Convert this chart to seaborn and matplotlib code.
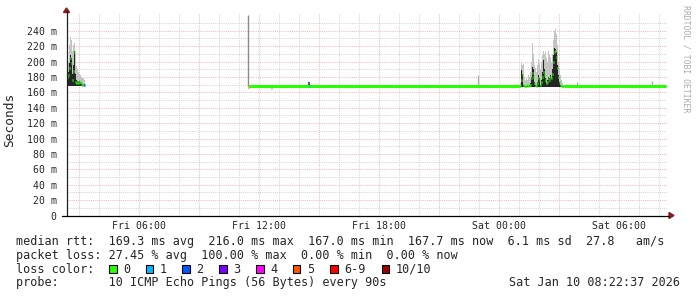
import numpy as np
import matplotlib
matplotlib.use("Agg")
import matplotlib.pyplot as plt
import seaborn as sns
from matplotlib.patches import Rectangle, Polygon
from matplotlib.lines import Line2D

# ---------------- data (ms, hours since Fri 00:00) ----------------
step_h = 0.05            # one consolidated sample every 3 minutes
x_start, x_end = 2.377, 32.377

loss_labels = ['0', '1', '2', '3', '4', '5', '6-9', '10/10']
loss_colors = ['#26ff00', '#00b8ff', '#0059ff', '#7e00ff',
               '#ff00ff', '#ff5500', '#ff0000', '#a00000']

# early burst (Fri ~02:22 - 03:20)
seg1_start = 2.377
seg1_med = [178, 180, 182, 192, 204, 198, 176, 188, 212, 174, 172, 173, 172, 174, 173, 171, 170, 169, 170]
seg1_dark = [182, 184, 186, 198, 208, 204, 184, 196, 214, 184, 176, 175, 173, 175, 174, 172, 171, 170, 171]
seg1_light = [190, 196, 200, 222, 232, 228, 214, 221, 224, 210, 194, 190, 186, 184, 182, 180, 178, 178, 176]
seg1_loss = [0, 0, 0, 0, 0, 0, 0, 0, 0, 0, 0, 0, 0, 0, 0, 0, 0, 0, 2]
seg1_lo = 168

# night burst (Sat ~01:00 - 03:15)
seg2_start = 24.977
seg2_med = [167.7, 167.7, 168, 176, 182, 170, 168, 168, 168, 169, 168, 169, 170, 178, 185, 180,
            172, 170, 168, 172, 178, 176, 170, 174, 180, 186, 182, 176, 172, 174, 178, 176,
            180, 178, 184, 200, 212, 214, 206, 192, 180, 174, 170, 168, 167.7, 167.7]
seg2_dark = [167.7, 167.7, 168, 189, 184, 170, 168, 168, 168, 169, 168, 169, 172, 180, 193, 190,
             174, 170, 168, 174, 182, 178, 170, 176, 186, 202, 190, 178, 172, 176, 180, 178,
             182, 178, 190, 208, 217, 216, 212, 196, 182, 174, 170, 168, 167.7, 167.7]
seg2_light = [168, 168, 172, 198, 196, 197, 180, 176, 178, 176, 182, 180, 186, 200, 224, 210,
              196, 192, 186, 196, 203, 198, 190, 200, 209, 213, 210, 212, 204, 200, 214, 208,
              206, 200, 210, 228, 240, 242, 236, 222, 200, 190, 182, 176, 172, 168]
seg2_lo = 166.5

# steady periods
flat_starts = [11.55, 27.277]
flat_ends = [24.952, 32.30]
flat_value = 167.7

# isolated samples
spot_t = [11.477, 12.627, 14.527]
spot_med = [167.5, 166.0, 167.7]
spot_loss = [5, 0, 1]

# tall smoke spike when probing resumed
spike_t = 11.477
spike_hi = 261

# small smoke blips on the steady line
blip_t = [12.527, 13.427, 14.227, 22.977, 27.377, 27.927, 28.277, 29.527, 30.377, 31.677]
blip_hi = [170, 171, 170, 183, 171, 173, 170, 170, 170, 175]
dark_blip_t = [14.50]
dark_blip_hi = [174]

y_major = [0, 20, 40, 60, 80, 100, 120, 140, 160, 180, 200, 220, 240]
y_minor = [10, 30, 50, 70, 90, 110, 130, 150, 170, 190, 210, 230, 250]
x_label_hours = [6, 12, 18, 24, 30]
x_label_text = ['Fri 06:00', 'Fri 12:00', 'Fri 18:00', 'Sat 00:00', 'Sat 06:00']
x_major = [3, 6, 9, 12, 15, 18, 21, 24, 27, 30]

stats_line1 = "median rtt:  169.3 ms avg  216.0 ms max  167.0 ms min  167.7 ms now  6.1 ms sd  27.8   am/s"
stats_line2 = "packet loss: 27.45 % avg  100.00 % max  0.00 % min  0.00 % now"
probe_text = "probe:       10 ICMP Echo Pings (56 Bytes) every 90s"
stamp_text = "Sat Jan 10 08:22:37 2026"

# ---------------- drawing ----------------
sns.set_style("white")
plt.rcParams['font.family'] = ['DejaVu Sans Mono', 'DejaVu Sans']
MONO = 'DejaVu Sans Mono'

W, H = 697, 297
fig = plt.figure(figsize=(W / 100, H / 100), dpi=100)
fx = lambda px: px / W
fy = lambda py: 1 - py / H

ax = fig.add_axes([fx(66.5), fy(215.5), 600 / W, (215.5 - 13) / H])
ax.set_xlim(x_start, x_end)
ax.set_ylim(0, 263)
for s in ax.spines.values():
    s.set_visible(False)

# grid
red_grid = '#f0b4b4'
gray_grid = '#d2d2d2'
dots = (0, (1, 1.2))
for v in y_minor:
    ax.axhline(v, color=gray_grid, lw=0.7, ls=dots, zorder=0)
for v in y_major[1:]:
    ax.axhline(v, color=red_grid, lw=0.7, ls=dots, zorder=0)
for h in range(3, 33):
    if h not in x_major:
        ax.axvline(h, color=gray_grid, lw=0.7, ls=dots, zorder=0)
for h in x_major:
    ax.axvline(h, color=red_grid, lw=0.7, ls=dots, zorder=0)

# smoke
def smoke(start, lo, light, dark):
    t = start + step_h * np.arange(len(light))
    ax.fill_between(t, lo, light, step='mid', color='#c4c4c4', lw=0, zorder=2)
    ax.fill_between(t, lo, dark, step='mid', color='#262626', lw=0, zorder=3)
    return t

t1 = smoke(seg1_start, seg1_lo, seg1_light, seg1_dark)
t2 = smoke(seg2_start, seg2_lo, seg2_light, seg2_dark)

ax.vlines(spike_t, flat_value, spike_hi, color='#8c8c8c', lw=1.0, zorder=2)
ax.vlines(blip_t, flat_value, blip_hi, color='#b0b0b0', lw=1.0, zorder=2)
ax.vlines(dark_blip_t, flat_value, dark_blip_hi, color='#333333', lw=1.2, zorder=3)

# steady median line
for a, b in zip(flat_starts, flat_ends):
    sns.lineplot(x=[a, b], y=[flat_value, flat_value], ax=ax,
                 color=loss_colors[0], lw=2.2, zorder=4)

# per-sample median marks, coloured by loss
def median_marks(t, med, loss):
    t = np.asarray(t, dtype=float)
    ax.hlines(med, t - step_h / 2, t + step_h / 2,
              colors=[loss_colors[l] for l in loss], lw=2.0, zorder=5)

median_marks(t1, seg1_med, seg1_loss)
median_marks(t2, seg2_med, [0] * len(seg2_med))
median_marks(spot_t, spot_med, spot_loss)

# ticks
ax.set_yticks(y_major)
ax.set_yticklabels(['0'] + [f'{v} m' for v in y_major[1:]])
ax.set_yticks(y_minor, minor=True)
ax.set_xticks(x_label_hours)
ax.set_xticklabels(x_label_text)
ax.tick_params(axis='y', which='both', length=2, width=0.7, color='#505050',
               pad=5, labelsize=7.1)
ax.tick_params(axis='x', which='both', length=0, pad=4, labelsize=7.1)
for lab in ax.get_xticklabels() + ax.get_yticklabels():
    lab.set_fontfamily(MONO)

# axis lines and arrows
fig.add_artist(Line2D([fx(66.5), fx(66.5)], [fy(215.5), fy(11)], color='#202020', lw=0.9,
                      transform=fig.transFigure))
fig.add_artist(Line2D([fx(62), fx(669)], [fy(215.5), fy(215.5)], color='#000000', lw=0.9,
                      transform=fig.transFigure))
arrow_c = '#8b1a1a'
fig.add_artist(Polygon([(fx(63.5), fy(12.5)), (fx(69.5), fy(12.5)), (fx(66.5), fy(8))],
                       closed=True, color=arrow_c, transform=fig.transFigure))
fig.add_artist(Polygon([(fx(669), fy(212.5)), (fx(669), fy(218.5)), (fx(674), fy(215.5))],
                       closed=True, color=arrow_c, transform=fig.transFigure))

# labels
fig.text(fx(10), fy(120), 'Seconds', rotation=90, ha='center', va='center',
         fontsize=9.3, family=MONO)
fig.text(fx(686), fy(59), 'RRDTOOL / TOBI OETIKER', rotation=270, ha='center', va='center',
         fontsize=5.9, family=MONO, color='#aaaaaa')

fs = 8.5
fig.text(fx(16), fy(241.5), stats_line1, ha='left', va='center', fontsize=fs, family=MONO)
fig.text(fx(16), fy(255.2), stats_line2, ha='left', va='center', fontsize=fs, family=MONO)
fig.text(fx(16), fy(269.2), 'loss color:', ha='left', va='center', fontsize=fs, family=MONO)
box_x = [109, 145.7, 182.3, 219, 256, 292.7, 330, 381.7]
for bx, lab, col in zip(box_x, loss_labels, loss_colors):
    fig.add_artist(Rectangle((fx(bx), fy(273.3)), 7.5 / W, 8 / H, facecolor=col,
                             edgecolor='black', lw=0.8, transform=fig.transFigure))
    fig.text(fx(bx + 14), fy(269.2), lab, ha='left', va='center', fontsize=fs, family=MONO)
fig.text(fx(16), fy(282.8), probe_text, ha='left', va='center', fontsize=fs, family=MONO)
fig.text(fx(680), fy(282.8), stamp_text, ha='right', va='center', fontsize=fs, family=MONO)

fig.savefig('out.png', dpi=100, facecolor='white')
